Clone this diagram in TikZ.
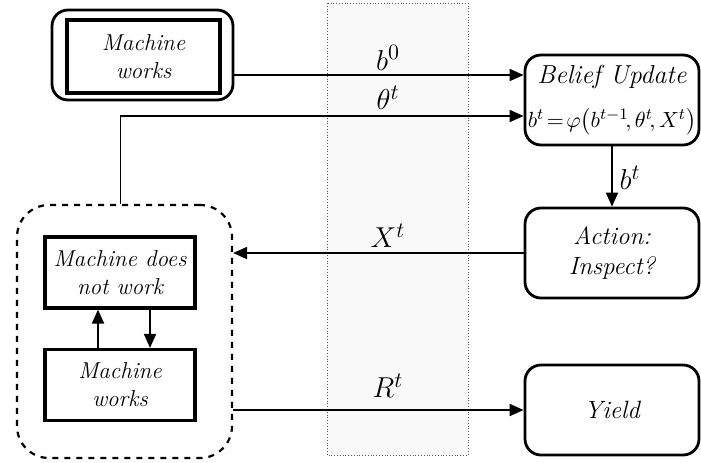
\documentclass[tikz,border=0pt]{standalone}
\usepackage{amsmath}
\usepackage{amssymb}
\usepackage{xcolor}
\usetikzlibrary{arrows.meta, positioning, calc}

\tikzset{
  roundbox/.style={draw, line width=1.4pt, rounded corners=8pt, align=center,
    font=\itshape\fontsize{12.5}{15}\selectfont, minimum width=87pt, minimum height=45pt, inner sep=1pt},
  plainbox/.style={draw, line width=1.6pt, align=center,
    font=\itshape\fontsize{11.5}{14}\selectfont, minimum width=75pt, minimum height=35.5pt, inner sep=1pt},
  flow/.style={line width=0.9pt, -{Triangle[length=7pt,width=6pt]}},
  lbl/.style={font=\fontsize{15}{17}\selectfont},
}

\begin{document}
\begin{tikzpicture}[x=0.5pt, y=-0.5pt]
    \useasboundingbox (0,0) rectangle (701,462);

    % Shaded middle zone
    \draw[densely dotted, gray!70!black, fill=gray!5] (327,3) rectangle (468,455);

    % Top left: machine works (double frame)
    \node[draw, line width=1.4pt, rounded corners=8pt, minimum width=90.5pt, minimum height=45pt] (outer) at (142.5,55) {};
    \node[plainbox, line width=2pt, minimum width=76.5pt, minimum height=36.5pt] (start) at (143.5,56.5) {Machine\\works};

    % Right column
    \node[roundbox] (belief) at (612,100) {{\fontsize{13}{16}\selectfont Belief Update}\\[7pt]
      {\upshape\fontsize{11}{13}\selectfont $b^t\!=\!\varphi\bigl(b^{t-1}\!,\theta^t\!,X^t\bigr)$}};
    \node[roundbox] (action) at (612,253) {Action:\\Inspect?};
    \node[roundbox] (yield) at (612,410) {Yield};

    % Machine states (dashed group)
    \node[draw, dashed, line width=1.1pt, rounded corners=16pt, minimum width=107.5pt, minimum height=126.5pt] (states) at (124.5,331.5) {};
    \node[plainbox] (nowork) at (120,272.5) {Machine does\\not work};
    \node[plainbox] (works) at (120,385) {Machine\\works};

    % Transitions between states
    \draw[flow] ([xshift=-11pt]works.north) -- ([xshift=-11pt]nowork.south);
    \draw[flow] ([xshift=15pt]nowork.south) -- ([xshift=15pt]works.north);

    % Signals
    \coordinate (b0start) at ([yshift=-10pt]outer.east);
    \draw[flow] (b0start) -- (b0start -| belief.west);
    \draw[flow] ([xshift=-2pt]states.north) |- ([yshift=-8pt]belief.west);
    \draw[flow] (belief.south) -- (action.north);
    \draw[flow] (action.west) -- (states.east |- action.west);
    \draw[flow] (states.east |- yield.west) -- (yield.west);

    % Labels
    \node[lbl] (lb0) at (388,58) {$b^0$};
    \node[lbl] (ltheta) at (388,98) {$\theta^t$};
    \node[lbl] (lbt) at (630,178) {$b^t$};
    \node[lbl] (lX) at (388,236) {$X^t$};
    \node[lbl] (lR) at (388,386) {$R^t$};
\end{tikzpicture}
\end{document}
